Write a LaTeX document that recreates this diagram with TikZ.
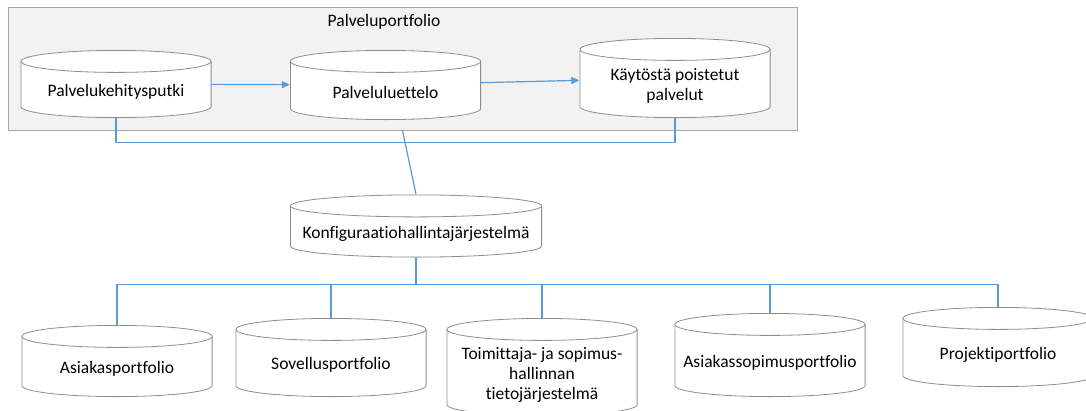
\documentclass[tikz,border=0pt]{standalone}
\usepackage{fontspec}
\setmainfont{Carlito}[Ligatures={NoCommon}]
\usetikzlibrary{arrows.meta, positioning, calc}
\definecolor{viiva}{HTML}{5B9BD5}
\definecolor{reuna}{HTML}{A6A6A6}
\definecolor{tausta}{HTML}{F2F2F2}
\newcommand{\alas}{\rule{0pt}{27pt}}
\begin{document}
\begin{tikzpicture}[x=1pt, y=-1pt,
  font=\fontsize{17.5}{20}\selectfont,
  kanta/.style={rectangle, minimum width=191pt, align=center, inner sep=0pt,
                path picture={
                  \filldraw[draw=reuna!85!black, fill=white, line width=0.8pt]
                    let \p1=(path picture bounding box.north west),
                        \p2=(path picture bounding box.south east) in
                    (\x1+0.4pt,\y1-11.4pt) -- (\x1+0.4pt,\y2+11.4pt)
                    arc[start angle=180, end angle=360, x radius={(\x2-\x1)/2-0.4pt}, y radius=11pt]
                    -- (\x2-0.4pt,\y1-11.4pt)
                    arc[start angle=0, end angle=180, x radius={(\x2-\x1)/2-0.4pt}, y radius=11pt]
                    -- cycle;
                  \draw[draw=reuna!85!black, line width=0.8pt]
                    let \p1=(path picture bounding box.north west),
                        \p2=(path picture bounding box.south east) in
                    (\x1+0.4pt,\y1-11.4pt)
                    arc[start angle=180, end angle=360, x radius={(\x2-\x1)/2-0.4pt}, y radius=11pt];
                }},
  kehys/.style={draw=reuna, fill=tausta, line width=1pt},
  yhteys/.style={draw=viiva, line width=1.2pt},
  nuoli/.style={yhteys, -{Triangle[length=8pt,width=7pt]}}
]
\useasboundingbox (0,0) rectangle (1086,410);

\node[kehys, minimum width=789pt, minimum height=123pt] (portfolio) at (402.5,68.5) {};
\node (otsikko) at (384,21.5) {Palveluportfolio};

\node[kanta, minimum height=68pt] (kehitys)   at (116,84) {\alas Palvelukehitysputki};
\node[kanta, minimum height=70pt] (luettelo)  at (385.5,85) {\alas Palveluluettelo};
\node[kanta, minimum height=80pt] (poistetut) at (675,78)   {\alas Käytöstä poistetut\\palvelut};

\draw[nuoli] (kehitys) -- (luettelo);
\draw[nuoli] (luettelo) -- (poistetut);
\draw[yhteys] (kehitys.south) -- ++(0,24) -| (poistetut.south);

\node[kanta, minimum width=252pt, minimum height=63pt] (konfig) at (416,226) {\alas Konfiguraatiohallintajärjestelmä};
\draw[yhteys] (portfolio.south) -- (konfig.north);

\node[kanta, minimum height=72pt] (asiakas)    at (117,361) {\alas Asiakasportfolio};
\node[kanta, minimum height=79pt] (sovellus)   at (331,357.5) {\alas Sovellusportfolio};
\node[kanta, minimum height=98pt] (toimittaja) at (542,367) {\alas Toimittaja- ja sopimus-\\hallinnan\\tietojärjestelmä};
\node[kanta, minimum height=84pt] (sopimus)    at (770,355) {\alas Asiakassopimusportfolio};
\node[kanta, minimum height=80pt] (projekti)   at (998,347) {\alas Projektiportfolio};

\foreach \k in {asiakas, sovellus, toimittaja, sopimus, projekti}
  \draw[yhteys] (konfig.south) -- ++(0,27) -| (\k.north);

\end{tikzpicture}
\end{document}
